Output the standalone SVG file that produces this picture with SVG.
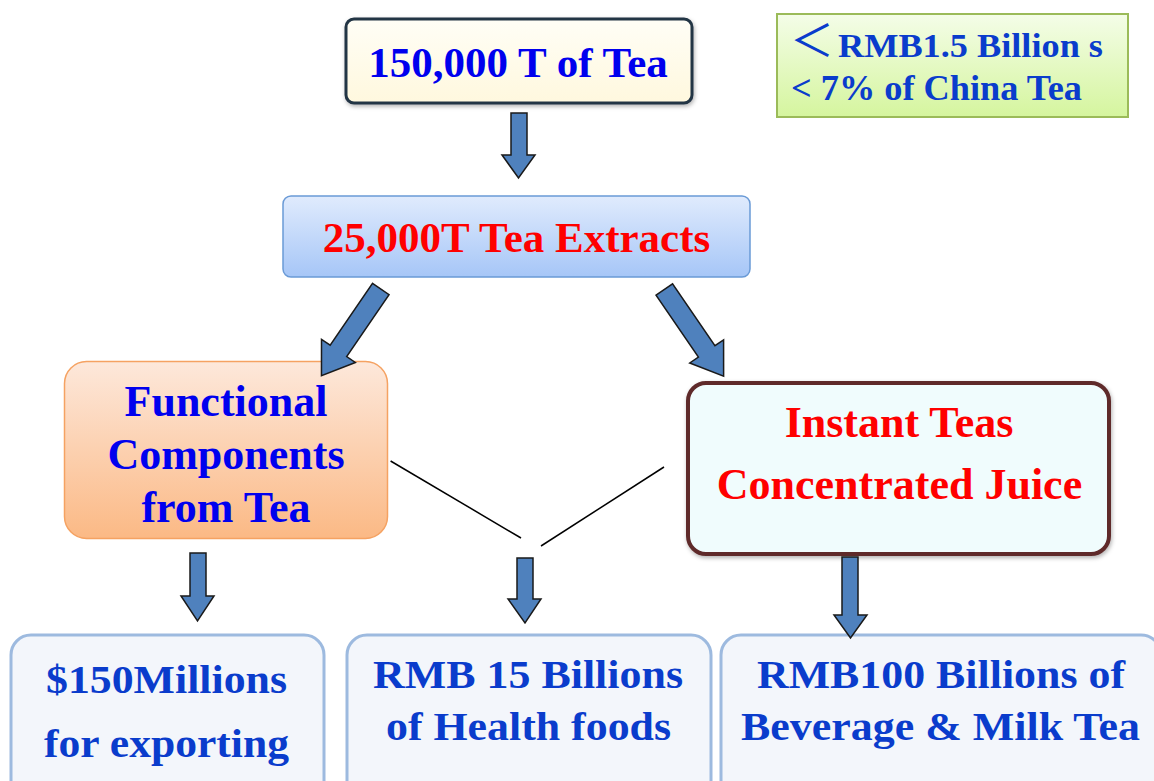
<svg xmlns="http://www.w3.org/2000/svg" width="1154" height="781" viewBox="0 0 1154 781">
<defs>
<style>
.t{font-family:"Liberation Serif","Times New Roman",serif;font-weight:bold;text-anchor:middle}
.blue{fill:#0000ee}
.red{fill:#ff0000}
.dblue{fill:#0a3ccc}
.arr{fill:#4f81bd;stroke:#1a1a1a;stroke-width:1.5;stroke-linejoin:miter}
.line{stroke:#000;stroke-width:1.5;fill:none}
.bot{fill:#f3f6fb;stroke:#9dbadf;stroke-width:3}
</style>
<linearGradient id="gTop" x1="0" y1="0" x2="0" y2="1"><stop offset="0" stop-color="#fffef6"/><stop offset="1" stop-color="#fff8de"/></linearGradient>
<linearGradient id="gBlue" x1="0" y1="0" x2="0" y2="1"><stop offset="0" stop-color="#e0ebfd"/><stop offset="1" stop-color="#a6c6f7"/></linearGradient>
<linearGradient id="gOrange" x1="0" y1="0" x2="0" y2="1"><stop offset="0" stop-color="#fde8db"/><stop offset="1" stop-color="#fbb985"/></linearGradient>
<linearGradient id="gGreen" x1="0" y1="0" x2="0" y2="1"><stop offset="0" stop-color="#f4fde8"/><stop offset="1" stop-color="#d5f59e"/></linearGradient>
<filter id="sh" x="-10%" y="-10%" width="120%" height="130%"><feDropShadow dx="1" dy="2" stdDeviation="2" flood-color="#000" flood-opacity="0.3"/></filter>
<path id="diag" d="M-10,0 L10,0 L10,75 L20.5,75 L0,105 L-20.5,75 L-10,75 Z"/>
</defs>
<rect width="1154" height="781" fill="#ffffff"/>

<g id="node-tea">
<rect x="346" y="19" width="346" height="84" rx="8" fill="url(#gTop)" stroke="#243444" stroke-width="3" filter="url(#sh)"/>
<text class="t blue" x="518" y="77" font-size="43">150,000 T of Tea</text>
</g>

<g id="node-note">
<rect x="777" y="14" width="351" height="103" fill="url(#gGreen)" stroke="#9bbb59" stroke-width="2"/>
<text class="dblue" y="57" font-family="'Liberation Serif','Noto Sans CJK SC',serif" font-weight="bold"><tspan x="790" font-size="44" font-weight="normal">＜</tspan><tspan x="838" font-size="34" textLength="265" lengthAdjust="spacingAndGlyphs">RMB1.5 Billion s</tspan></text>
<text class="dblue" x="791" y="100" font-size="35" font-family="'Liberation Serif',serif" font-weight="bold" textLength="291" lengthAdjust="spacingAndGlyphs">&lt; 7% of China Tea</text>
</g>

<g id="node-extracts">
<rect x="283" y="196" width="467" height="81" rx="8" fill="url(#gBlue)" stroke="#6a9ad6" stroke-width="1.5"/>
<text class="t red" x="516.5" y="252" font-size="43">25,000T Tea Extracts</text>
</g>

<g id="node-functional">
<rect x="64.5" y="361.5" width="323" height="177" rx="22" fill="url(#gOrange)" stroke="#f5a262" stroke-width="1.5"/>
<text class="t blue" x="226" y="416" font-size="44">Functional</text>
<text class="t blue" x="226" y="469" font-size="44">Components</text>
<text class="t blue" x="226" y="522" font-size="44">from Tea</text>
</g>

<g id="node-instant">
<rect x="688" y="383" width="421" height="171" rx="18" fill="#f0fcfd" stroke="#5e2b2b" stroke-width="4" filter="url(#sh)"/>
<text class="t red" x="899" y="437" font-size="44">Instant Teas</text>
<text class="t red" x="899.5" y="499" font-size="44">Concentrated Juice</text>
</g>

<g id="node-export">
<rect class="bot" x="11" y="635" width="313" height="170" rx="20"/>
<text class="t dblue" x="166.5" y="693" font-size="41" textLength="241" lengthAdjust="spacingAndGlyphs">$150Millions</text>
<text class="t dblue" x="166.5" y="757" font-size="41" textLength="245" lengthAdjust="spacingAndGlyphs">for exporting</text>
</g>

<g id="node-health">
<rect class="bot" x="347" y="635" width="364" height="170" rx="20"/>
<text class="t dblue" x="528" y="688" font-size="41" textLength="310" lengthAdjust="spacingAndGlyphs">RMB 15 Billions</text>
<text class="t dblue" x="528.5" y="740" font-size="41" textLength="285" lengthAdjust="spacingAndGlyphs">of Health foods</text>
</g>

<g id="node-beverage">
<rect class="bot" x="721" y="635" width="440" height="170" rx="20"/>
<text class="t dblue" x="941" y="688" font-size="41" textLength="368" lengthAdjust="spacingAndGlyphs">RMB100 Billions of</text>
<text class="t dblue" x="940.5" y="740" font-size="41" textLength="399" lengthAdjust="spacingAndGlyphs">Beverage &amp; Milk Tea</text>
</g>

<g id="connectors">
<polygon class="arr" points="511,113 527,113 527,155 535,155 518.5,178 502,155 511,155"/>
<use href="#diag" class="arr" transform="translate(380.8,289) rotate(34.4)"/>
<use href="#diag" class="arr" transform="translate(664.3,289.5) rotate(-34.4)"/>
<polygon class="arr" points="190,553 206,553 206,596 214,596 197.5,621 181,596 190,596"/>
<polygon class="arr" points="517,558 533,558 533,599 541,599 525,623 508,599 517,599"/>
<polygon class="arr" points="842,557 858,557 858,615 867,615 850.5,638 834,615 842,615"/>
<line class="line" x1="390.6" y1="461" x2="521" y2="538"/>
<line class="line" x1="664" y1="467" x2="541" y2="546"/>
</g>
</svg>
